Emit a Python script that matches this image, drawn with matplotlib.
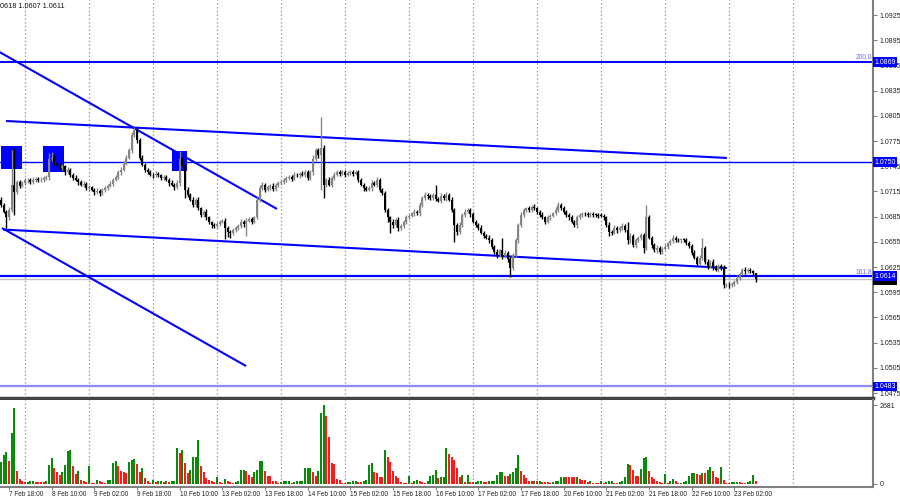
import matplotlib
matplotlib.use('Agg')
import matplotlib.pyplot as plt
from matplotlib.patches import Rectangle

plt.rcParams['font.family'] = ['Liberation Sans', 'DejaVu Sans']

# EURUSD H1, bar 0 = 7 Feb 15:00
first_open = 1.0705
close = [
    1.0699, 1.0691, 1.0684, 1.0693, 1.0723, 1.0714, 1.0726, 1.0722, 1.0725, 1.0728, 1.0729, 1.0726, 1.0729, 1.0730, 1.0728, 1.0729,
    1.0731, 1.0732, 1.0753, 1.0755, 1.0749, 1.0747, 1.0743, 1.0745, 1.0738, 1.0741, 1.0735, 1.0731, 1.0729, 1.0726, 1.0723, 1.0724,
    1.0719, 1.0720, 1.0717, 1.0714, 1.0716, 1.0713, 1.0717, 1.0719, 1.0722, 1.0724, 1.0729, 1.0732, 1.0738, 1.0741, 1.0748, 1.0755,
    1.0764, 1.0782, 1.0788, 1.0776, 1.0755, 1.0747, 1.0741, 1.0738, 1.0735, 1.0734, 1.0736, 1.0734, 1.0731, 1.0732, 1.0729, 1.0725,
    1.0723, 1.0720, 1.0725, 1.0753, 1.0747, 1.0717, 1.0711, 1.0705, 1.0699, 1.0705, 1.0695, 1.0687, 1.0691, 1.0684, 1.0678, 1.0675,
    1.0674, 1.0676, 1.0679, 1.0680, 1.0672, 1.0667, 1.0666, 1.0669, 1.0672, 1.0674, 1.0679, 1.0676, 1.0680, 1.0682, 1.0679, 1.0684,
    1.0705, 1.0719, 1.0723, 1.0717, 1.0720, 1.0722, 1.0718, 1.0723, 1.0725, 1.0726, 1.0729, 1.0731, 1.0732, 1.0730, 1.0735, 1.0734,
    1.0736, 1.0735, 1.0738, 1.0731, 1.0738, 1.0753, 1.0764, 1.0758, 1.0767, 1.0723, 1.0729, 1.0723, 1.0731, 1.0735, 1.0738, 1.0736,
    1.0738, 1.0735, 1.0737, 1.0738, 1.0736, 1.0738, 1.0729, 1.0723, 1.0719, 1.0717, 1.0719, 1.0725, 1.0723, 1.0729, 1.0717, 1.0713,
    1.0693, 1.0684, 1.0679, 1.0675, 1.0681, 1.0672, 1.0674, 1.0679, 1.0684, 1.0686, 1.0689, 1.0691, 1.0689, 1.0699, 1.0707, 1.0711,
    1.0709, 1.0707, 1.0711, 1.0706, 1.0704, 1.0710, 1.0707, 1.0711, 1.0705, 1.0693, 1.0675, 1.0667, 1.0675, 1.0687, 1.0691, 1.0693,
    1.0688, 1.0679, 1.0675, 1.0672, 1.0666, 1.0662, 1.0660, 1.0657, 1.0649, 1.0643, 1.0639, 1.0645, 1.0638, 1.0642, 1.0634, 1.0624,
    1.0639, 1.0657, 1.0675, 1.0687, 1.0693, 1.0695, 1.0693, 1.0697, 1.0695, 1.0691, 1.0687, 1.0684, 1.0679, 1.0684, 1.0686, 1.0689,
    1.0693, 1.0699, 1.0695, 1.0691, 1.0687, 1.0684, 1.0679, 1.0675, 1.0684, 1.0687, 1.0688, 1.0688, 1.0687, 1.0688, 1.0687, 1.0687,
    1.0686, 1.0686, 1.0684, 1.0675, 1.0667, 1.0666, 1.0672, 1.0669, 1.0672, 1.0674, 1.0669, 1.0657, 1.0662, 1.0651, 1.0657, 1.0660,
    1.0663, 1.0648, 1.0684, 1.0660, 1.0651, 1.0645, 1.0648, 1.0643, 1.0647, 1.0649, 1.0653, 1.0656, 1.0660, 1.0657, 1.0657, 1.0658,
    1.0657, 1.0654, 1.0650, 1.0642, 1.0636, 1.0629, 1.0636, 1.0648, 1.0631, 1.0626, 1.0631, 1.0625, 1.0622, 1.0626, 1.0624, 1.0603,
    1.0604, 1.0603, 1.0605, 1.0607, 1.0612, 1.0617, 1.0622, 1.0620, 1.0622, 1.0620, 1.0618, 1.0611,
]
# wick lengths beyond the body, in pips
wick_up = [
    3, 2, 2, 3, 41, 44, 3, 2, 2, 3, 2, 2, 3, 2, 2, 3,
    2, 3, 8, 7, 3, 2, 2, 3, 2, 3, 2, 2, 3, 2, 2, 3,
    2, 3, 2, 2, 3, 2, 2, 3, 2, 3, 2, 3, 2, 3, 3, 3,
    3, 4, 4, 3, 2, 3, 2, 2, 3, 2, 3, 2, 2, 3, 2, 2,
    3, 2, 3, 10, 3, 2, 3, 2, 3, 2, 3, 2, 2, 3, 2, 2,
    2, 3, 2, 2, 3, 2, 2, 3, 2, 2, 3, 2, 3, 2, 3, 2,
    3, 4, 3, 2, 3, 2, 3, 2, 2, 3, 2, 2, 3, 2, 3, 2,
    2, 3, 2, 3, 2, 5, 3, 3, 37, 3, 2, 3, 2, 3, 2, 2,
    3, 2, 2, 3, 2, 2, 3, 2, 2, 3, 2, 3, 2, 3, 2, 2,
    3, 2, 2, 3, 2, 3, 2, 2, 3, 2, 2, 3, 2, 3, 2, 3,
    2, 3, 2, 12, 2, 3, 2, 3, 2, 3, 2, 2, 3, 2, 3, 2,
    2, 3, 2, 2, 3, 2, 2, 3, 2, 2, 3, 2, 15, 3, 2, 3,
    3, 3, 2, 3, 2, 2, 3, 2, 3, 2, 2, 3, 2, 3, 2, 2,
    3, 3, 2, 3, 2, 2, 3, 2, 3, 2, 2, 3, 2, 2, 3, 2,
    2, 3, 2, 2, 3, 2, 3, 2, 2, 3, 2, 9, 3, 2, 3, 2,
    3, 2, 15, 3, 2, 2, 3, 2, 2, 3, 2, 2, 3, 2, 3, 2,
    2, 3, 2, 2, 3, 2, 3, 12, 2, 3, 2, 3, 2, 3, 2, 3,
    2, 3, 2, 2, 3, 2, 2, 3, 2, 2, 2, 0,
]
wick_dn = [
    3, 2, 12, 3, 3, 27, 2, 3, 2, 2, 3, 2, 2, 3, 2, 2,
    3, 2, 3, 2, 2, 3, 2, 2, 3, 2, 3, 2, 2, 3, 2, 3,
    2, 3, 2, 3, 2, 3, 2, 3, 2, 2, 3, 2, 2, 3, 2, 2,
    2, 3, 2, 3, 3, 2, 3, 2, 2, 3, 2, 2, 3, 2, 2, 3,
    2, 3, 2, 3, 2, 10, 3, 2, 3, 3, 2, 3, 2, 3, 2, 3,
    2, 3, 2, 2, 14, 6, 6, 3, 2, 3, 2, 3, 14, 2, 3, 2,
    2, 3, 2, 3, 2, 3, 2, 2, 3, 2, 2, 3, 2, 3, 2, 2,
    3, 2, 3, 2, 2, 3, 2, 3, 41, 16, 3, 2, 3, 2, 2, 3,
    2, 3, 2, 2, 3, 2, 3, 2, 3, 2, 2, 3, 2, 3, 3, 2,
    3, 5, 14, 3, 2, 4, 3, 2, 3, 2, 2, 3, 2, 3, 2, 2,
    3, 2, 2, 3, 2, 3, 2, 3, 2, 3, 20, 4, 3, 2, 3, 2,
    3, 2, 2, 3, 2, 3, 2, 3, 3, 2, 3, 2, 3, 2, 3, 11,
    3, 2, 3, 2, 2, 3, 2, 3, 2, 3, 2, 2, 3, 2, 3, 2,
    2, 3, 2, 3, 2, 3, 2, 2, 3, 2, 3, 2, 2, 3, 2, 2,
    3, 2, 3, 2, 5, 3, 2, 3, 2, 3, 2, 5, 3, 2, 3, 2,
    3, 6, 3, 2, 3, 2, 3, 2, 3, 2, 3, 2, 3, 2, 2, 3,
    2, 3, 2, 3, 2, 3, 2, 3, 2, 3, 2, 3, 2, 3, 2, 3,
    2, 3, 2, 3, 2, 3, 2, 3, 2, 2, 3, 4,
]
volume = [
    746, 983, 1085, 780, 1729, 2576, 441, 170, 102, 52, 70, 98, 104, 75, 68, 62,
    55, 100, 644, 881, 542, 407, 305, 410, 644, 1119, 1153, 610, 339, 441, 136, 100,
    55, 610, 45, 42, 136, 100, 80, 50, 140, 150, 712, 780, 610, 441, 407, 373,
    746, 814, 848, 678, 407, 542, 203, 100, 40, 136, 60, 100, 105, 80, 100, 60,
    100, 105, 1220, 1051, 1153, 712, 373, 475, 915, 925, 1492, 610, 407, 203, 136, 100,
    80, 237, 70, 45, 170, 100, 75, 45, 65, 100, 475, 480, 441, 305, 237, 407,
    475, 780, 790, 441, 271, 265, 100, 95, 45, 65, 85, 90, 100, 45, 70, 100,
    102, 104, 542, 548, 552, 407, 271, 441, 2407, 2681, 2305, 1593, 712, 678, 170, 136,
    50, 45, 55, 60, 90, 100, 80, 70, 95, 130, 644, 712, 407, 373, 237, 230,
    1153, 915, 746, 441, 271, 203, 60, 45, 40, 271, 45, 100, 130, 110, 80, 45,
    110, 271, 300, 475, 203, 237, 240, 1220, 1017, 915, 814, 542, 237, 305, 68, 305,
    80, 70, 75, 85, 110, 75, 70, 90, 95, 100, 305, 407, 410, 271, 265, 339,
    407, 542, 983, 441, 305, 203, 100, 90, 100, 85, 90, 75, 72, 70, 50, 70,
    85, 100, 237, 240, 238, 230, 225, 222, 240, 170, 140, 135, 70, 85, 30, 25,
    20, 100, 30, 70, 85, 90, 50, 30, 70, 85, 237, 678, 644, 475, 271, 265,
    508, 881, 915, 441, 237, 170, 100, 70, 30, 339, 30, 100, 170, 100, 40, 45,
    70, 85, 271, 373, 380, 339, 305, 373, 360, 475, 576, 441, 237, 203, 576, 136,
    50, 20, 60, 65, 80, 55, 50, 20, 60, 90, 305, 100,
]

time_labels = ['7 Feb 18:00', '8 Feb 10:00', '9 Feb 02:00', '9 Feb 18:00', '10 Feb 10:00',
               '13 Feb 02:00', '13 Feb 18:00', '14 Feb 10:00', '15 Feb 02:00', '15 Feb 18:00',
               '16 Feb 10:00', '17 Feb 02:00', '17 Feb 18:00', '20 Feb 10:00', '21 Feb 02:00',
               '21 Feb 18:00', '22 Feb 10:00', '23 Feb 02:00']
label_bars = [3, 19, 35, 51, 67, 83, 99, 115, 131, 147, 163, 179, 195, 211, 227, 243, 259, 275]
day_bars = [9, 33, 57, 81, 105, 129, 153, 177, 201, 225, 249, 273, 297]
price_ticks = [1.0475, 1.0505, 1.0535, 1.0565, 1.0595, 1.0625, 1.0655, 1.0685,
               1.0715, 1.0745, 1.0775, 1.0805, 1.0835, 1.0865, 1.0895, 1.0925]

levels = [1.0869, 1.0750, 1.0614, 1.0483]
level_names = ['200.0', '', '161.8', '']
bid = 1.0611
info = '0618 1.0607 1.0611'
vol_max = 2681

# trend lines: (bar, price) -> (bar, price)
trend_a = [(1.9, 1.07988), (0.75, 1.06696), (-1.0, 1.08817), (0.375, 1.06714)]
trend_b = [(272.2, 1.07548), (272.2, 1.06238), (103.5, 1.06941), (91.9, 1.05071)]
# signal boxes: bar range and price range
box_bars = [(0.0, 7.9), (15.75, 23.6), (64.1, 69.7)]
box_prices = [(1.07417, 1.07690), (1.07381, 1.07690), (1.07393, 1.07631)]

BLUE = '#0000ff'
n = len(close)
opens = [first_open] + close[:-1]
highs = [max(o, c) + u / 10000 for o, c, u in zip(opens, close, wick_up)]
lows = [min(o, c) - d / 10000 for o, c, d in zip(opens, close, wick_dn)]

fig = plt.figure(figsize=(9, 5), dpi=100)
ax = fig.add_axes([0, 102 / 500, 873 / 900, 398 / 500])
axv = fig.add_axes([0, 13 / 500, 873 / 900, 87 / 500])

xmin, xmax = -0.375, 327.0
for a in (ax, axv):
    a.set_xlim(xmin, xmax)
    for b in day_bars:
        a.axvline(b, color='#999999', lw=0.9, ls=(0, (1.2, 1.8)), zorder=0)
    a.spines['top'].set_visible(False)
    a.spines['left'].set_visible(False)
    a.spines['right'].set_color('#808080')
    a.spines['right'].set_linewidth(1.5)
    a.yaxis.tick_right()
    a.tick_params(axis='y', length=3, width=0.8, color='#808080', labelsize=5, pad=1.5, labelcolor='#222222')

ax.set_ylim(1.046905, 1.094286)
ax.spines['bottom'].set_color('#444444')
ax.spines['bottom'].set_linewidth(2.5)
ax.set_xticks([])
ax.set_yticks(price_ticks)
ax.set_yticklabels([f'{p:.4f}' for p in price_ticks])

# boxes under candles
for (b0, b1), (p0, p1) in zip(box_bars, box_prices):
    ax.add_patch(Rectangle((b0, p0), b1 - b0, p1 - p0, color=BLUE, lw=0, zorder=1))

# candles
up = [c > o for o, c in zip(opens, close)]
cols = ['#858585' if u else '#000000' for u in up]
ax.vlines(range(n), lows, highs, colors=cols, lw=1.0, zorder=3)
ax.bar(range(n), [max(abs(c - o), 0.00006) for o, c in zip(opens, close)],
       bottom=[min(o, c) for o, c in zip(opens, close)], width=0.8, color=cols, lw=0, zorder=3)

# horizontal levels
ax.axhline(levels[0], color=BLUE, lw=1.4, zorder=2)
ax.axhline(levels[1], color=BLUE, lw=1.0, zorder=2)
ax.axhline(bid, color='#c0c0c0', lw=1.0, zorder=2)
ax.axhline(levels[2], color=BLUE, lw=1.6, zorder=2)
ax.axhline(levels[3], color='#8c8cff', lw=1.6, zorder=2)
for lv, nm in zip(levels, level_names):
    if nm:
        ax.text(0.999, lv + 0.00008, nm, transform=ax.get_yaxis_transform(), ha='right', va='bottom',
                fontsize=4.8, color='#6a6aff', zorder=4)

# trend lines
for (x0, y0), (x1, y1) in zip(trend_a, trend_b):
    ax.plot([x0, x1], [y0, y1], color=BLUE, lw=1.5, zorder=2, solid_capstyle='butt')


def tag(a, y, txt, fc, z):
    a.annotate(txt, xy=(1, y), xycoords=a.get_yaxis_transform(), xytext=(1.2, 0),
               textcoords='offset points', ha='left', va='center', fontsize=5, color='white',
               bbox=dict(boxstyle='square,pad=0.18', fc=fc, ec='none'), annotation_clip=False, zorder=z)


tag(ax, bid - 0.00012, f'{bid:.4f}', '#000000', 5)
for lv in levels:
    tag(ax, lv, f'{lv:.4f}', BLUE, 6)

fig.text(0.0, 1 - 7 / 500, info, ha='left', va='center', fontsize=5.2, color='#111111')

# volumes
vcols = ['#0a8a0a' if i == 0 or volume[i] > volume[i - 1] else '#ff1a1a' for i in range(n)]
axv.bar(range(n), volume, width=0.8, color=vcols, lw=0, zorder=2)
axv.set_ylim(-102, 2851)
axv.set_yticks([0, vol_max])
axv.set_yticklabels(['0', str(vol_max)])
axv.spines['bottom'].set_color('#808080')
axv.spines['bottom'].set_linewidth(1.5)
axv.set_xticks(label_bars)
axv.set_xticklabels(time_labels, ha='left')
axv.tick_params(axis='x', length=2, width=0.8, color='#808080', labelsize=4.7, pad=1, labelcolor='#222222')

fig.savefig('out.png', dpi=100)
